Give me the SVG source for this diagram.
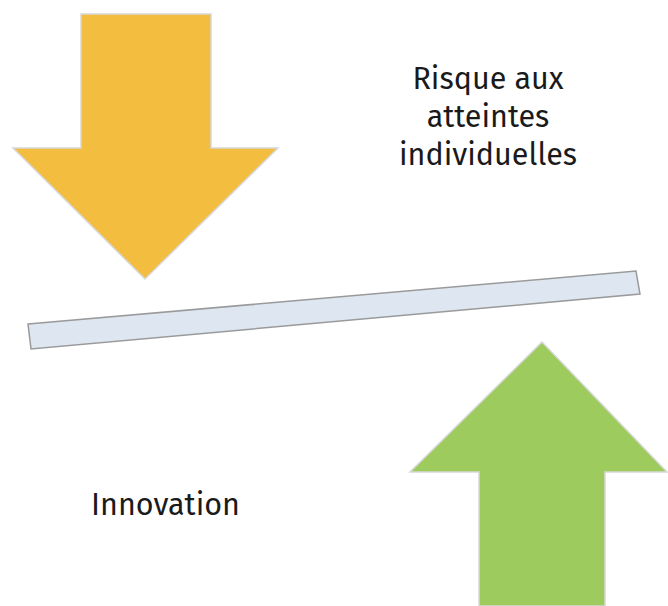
<svg xmlns="http://www.w3.org/2000/svg" width="668" height="606" viewBox="0 0 668 606">
<style>
.lbl{font-family:"Fira Sans","Noto Sans","Open Sans",sans-serif;font-size:30.5px;fill:#1a1a1a;text-anchor:middle}
.arr{stroke:#d8d8d8;stroke-width:1.5}
</style>
<rect width="668" height="606" fill="#ffffff"/>
<g id="risk-arrow">
<polygon class="arr" fill="#F3BD3F" points="81,14 211,14 211,148 278,148 145,279 13,148 81,148"/>
</g>
<g id="balance-bar">
<polygon fill="#DDE6F1" stroke="#9a9a9a" stroke-width="1.5" points="28,324 636,271 640,294 31,349"/>
</g>
<g id="innovation-arrow">
<polygon class="arr" fill="#9DCB5E" points="542,342 667,472 605,472 605,606 479,606 479,472 410,472"/>
</g>
<g id="risk-label">
<text class="lbl" x="488" y="89">Risque aux</text>
<text class="lbl" x="488" y="127">atteintes</text>
<text class="lbl" x="488" y="165">individuelles</text>
</g>
<g id="innovation-label">
<text class="lbl" x="165.5" y="515">Innovation</text>
</g>
<g id="connectors"></g>
</svg>
